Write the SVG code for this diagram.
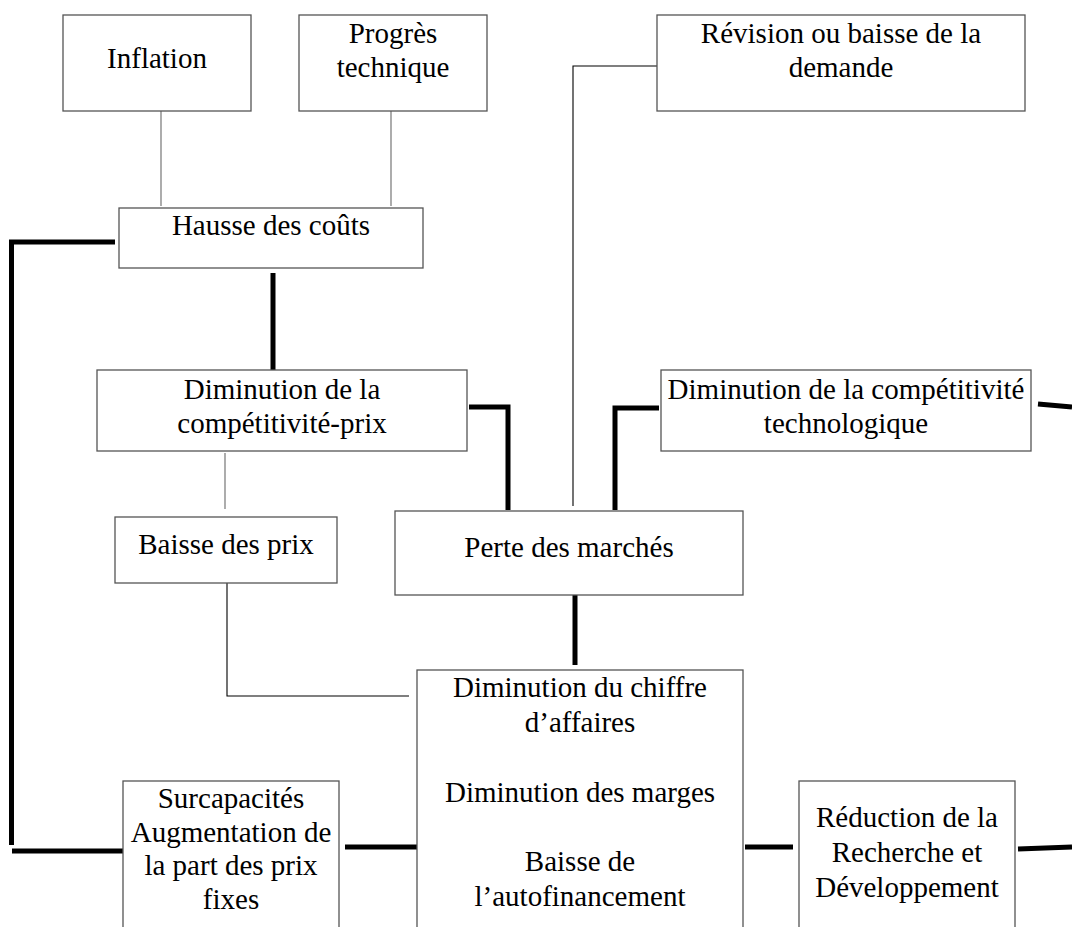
<svg xmlns="http://www.w3.org/2000/svg" width="1072" height="927" viewBox="0 0 1072 927">
<style>
  .box { fill: #fff; stroke: #555; stroke-width: 1.3; }
  .t { font-family: "Liberation Serif", "Times New Roman", serif; font-size: 29px; fill: #000; text-anchor: middle; }
  .thin { fill: none; stroke: #808080; stroke-width: 1.3; }
  .thinb { fill: none; stroke: #000; stroke-width: 1.1; }
  .thick { fill: none; stroke: #000; stroke-width: 5; stroke-linejoin: miter; }
</style>
<rect width="1072" height="927" fill="#fff"/>
<g id="connectors">
  <path class="thin" d="M161,111 V206"/>
  <path class="thin" d="M391,111 V206"/>
  <path class="thin" d="M225,453 V509"/>
  <path class="thinb" d="M657,66 H573 V506"/>
  <path class="thinb" d="M227,583 V696 H409"/>
  <path class="thick" d="M115,242 H11.5 V845"/>
  <path class="thick" d="M12,851 H123"/>
  <path class="thick" d="M273,273 V370"/>
  <path class="thick" d="M469,407 H508 V510"/>
  <path class="thick" d="M615,510 V408 H659"/>
  <path class="thick" d="M1038,404 L1072,407"/>
  <path class="thick" d="M575,595 V665"/>
  <path class="thick" d="M345,847 H417"/>
  <path class="thick" d="M745,847 H793"/>
  <path class="thick" d="M1018,849 L1072,847"/>
</g>
<g id="inflation">
  <rect class="box" x="63" y="15" width="188" height="96"/>
  <text class="t" x="157" y="68">Inflation</text>
</g>
<g id="progres">
  <rect class="box" x="299" y="15" width="188" height="96"/>
  <text class="t" x="393" y="43">Progrès</text>
  <text class="t" x="393" y="77">technique</text>
</g>
<g id="revision">
  <rect class="box" x="657" y="15" width="368" height="96"/>
  <text class="t" x="841" y="43">Révision ou baisse de la</text>
  <text class="t" x="841" y="77">demande</text>
</g>
<g id="hausse">
  <rect class="box" x="119" y="208" width="304" height="60"/>
  <text class="t" x="271" y="235">Hausse des coûts</text>
</g>
<g id="dim-prix">
  <rect class="box" x="97" y="370" width="370" height="81"/>
  <text class="t" x="282" y="399">Diminution de la</text>
  <text class="t" x="282" y="433">compétitivité-prix</text>
</g>
<g id="dim-techno">
  <rect class="box" x="661" y="370" width="370" height="81"/>
  <text class="t" x="846" y="399">Diminution de la compétitivité</text>
  <text class="t" x="846" y="433">technologique</text>
</g>
<g id="baisse-prix">
  <rect class="box" x="115" y="517" width="222" height="66"/>
  <text class="t" x="226" y="554">Baisse des prix</text>
</g>
<g id="perte">
  <rect class="box" x="395" y="511" width="348" height="84"/>
  <text class="t" x="569" y="557">Perte des marchés</text>
</g>
<g id="dca">
  <rect class="box" x="417" y="670" width="326" height="280"/>
  <text class="t" x="580" y="697">Diminution du chiffre</text>
  <text class="t" x="580" y="732">d’affaires</text>
  <text class="t" x="580" y="802">Diminution des marges</text>
  <text class="t" x="580" y="871">Baisse de</text>
  <text class="t" x="580" y="906">l’autofinancement</text>
</g>
<g id="surcap">
  <rect class="box" x="123" y="781" width="216" height="170"/>
  <text class="t" x="231" y="808">Surcapacités</text>
  <text class="t" x="231" y="842">Augmentation de</text>
  <text class="t" x="231" y="875">la part des prix</text>
  <text class="t" x="231" y="909">fixes</text>
</g>
<g id="rd">
  <rect class="box" x="799" y="781" width="216" height="170"/>
  <text class="t" x="907" y="827">Réduction de la</text>
  <text class="t" x="907" y="862">Recherche et</text>
  <text class="t" x="907" y="897">Développement</text>
</g>
</svg>
